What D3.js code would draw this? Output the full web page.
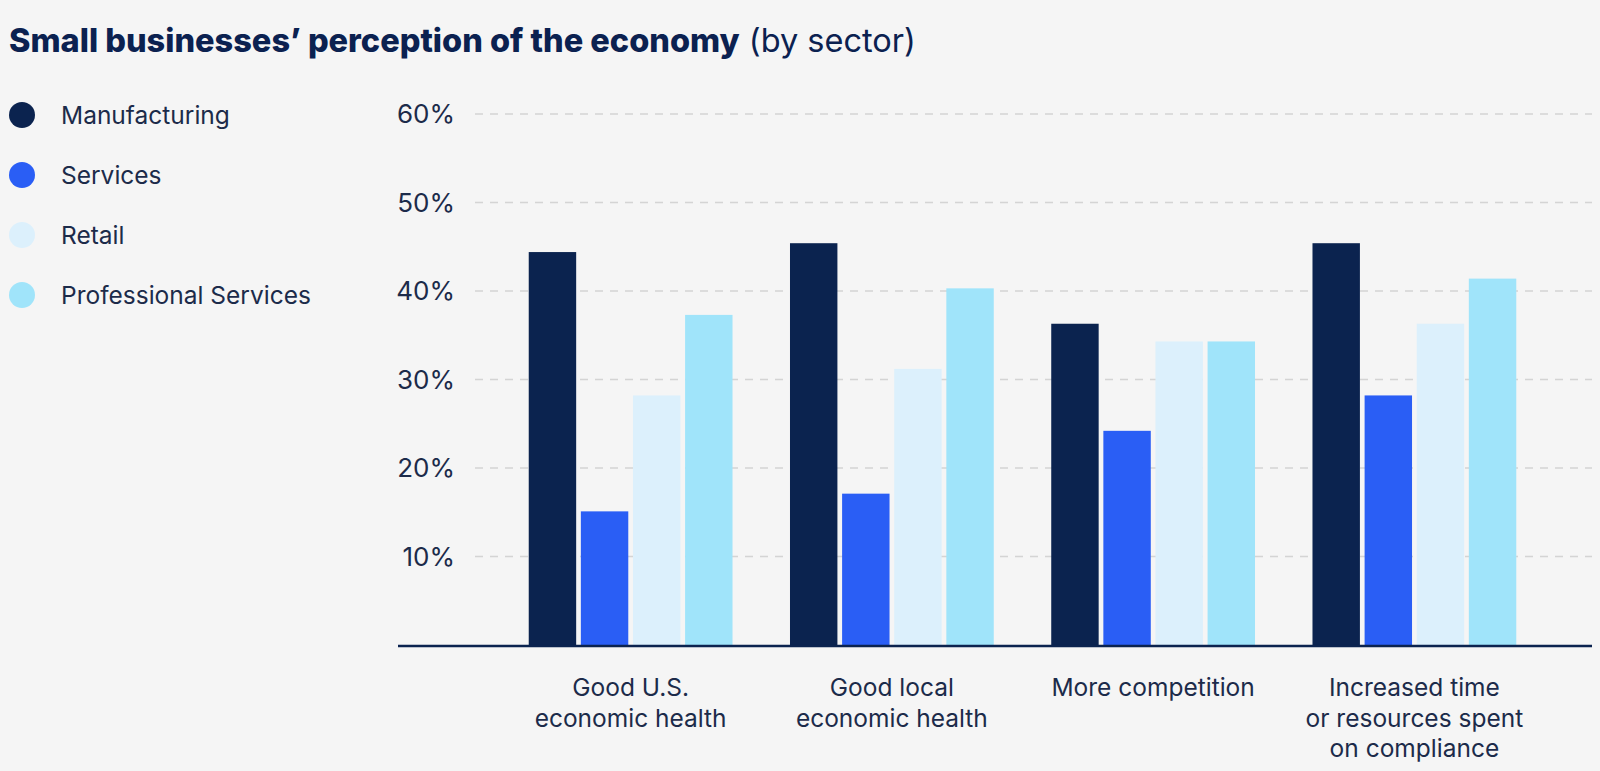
<!DOCTYPE html>
<html>
<head>
<meta charset="utf-8">
<script src="https://cdn.jsdelivr.net/npm/d3@7"></script>
<style>
  html, body { margin: 0; padding: 0; background: #f5f5f5; }
  svg { display: block; }
  text { font-family: Inter, "Open Sans", sans-serif; }
</style>
</head>
<body>
<svg id="chart" width="1600" height="771"></svg>
<script>
const categories = [
  ["Good U.S.", "economic health"],
  ["Good local", "economic health"],
  ["More competition"],
  ["Increased time", "or resources spent", "on compliance"]
];
const seriesNames = ["Manufacturing", "Services", "Retail", "Professional Services"];
const seriesColors = ["#0b234f", "#2a5ef5", "#dcf0fc", "#a0e4fa"];
const manufacturing = [44.4, 45.4, 36.3, 45.4];
const services = [15.1, 17.1, 24.2, 28.2];
const retail = [28.2, 31.2, 34.3, 36.3];
const professional = [37.3, 40.3, 34.3, 41.4];
const yTicks = [10, 20, 30, 40, 50, 60];

const series = [manufacturing, services, retail, professional];
const svg = d3.select("#chart");

const y = d3.scaleLinear().domain([0, 60]).range([645, 114]);
const x0 = d3.scaleBand().domain(d3.range(categories.length)).range([500, 1545]).paddingInner(0.22).paddingOuter(0.11);
const x1 = d3.scaleBand().domain(d3.range(series.length)).range([0, x0.bandwidth()]).paddingInner(0.09).paddingOuter(0);

// title
const title = svg.append("text").attr("x", 9).attr("y", 52).attr("fill", "#0b2150").style("font-size", "32.5px");
title.append("tspan").attr("font-weight", 800).text("Small businesses\u2019 perception of the economy");
title.append("tspan").attr("font-weight", 400).text(" (by sector)");

// gridlines
svg.append("g").selectAll("line").data(yTicks).join("line")
  .attr("x1", 475).attr("x2", 1592)
  .attr("y1", d => y(d)).attr("y2", d => y(d))
  .attr("stroke", "#d4d4d4").attr("stroke-width", 1.3).attr("stroke-dasharray", "8,7");

// y tick labels
svg.append("g").selectAll("text").data(yTicks).join("text")
  .attr("x", 455).attr("y", d => y(d)).attr("dy", "0.36em")
  .attr("text-anchor", "end").attr("fill", "#1c2b4a").style("font-size", "26px")
  .text(d => d + "%");

// bars
const groups = svg.append("g").selectAll("g").data(categories).join("g")
  .attr("transform", (d, i) => `translate(${x0(i)},0)`);
groups.selectAll("rect").data((d, i) => series.map((s, j) => ({ j, v: s[i] }))).join("rect")
  .attr("x", d => x1(d.j)).attr("width", x1.bandwidth())
  .attr("y", d => y(d.v)).attr("height", d => y(0) - y(d.v))
  .attr("fill", d => seriesColors[d.j]);

// baseline
svg.append("line").attr("x1", 398).attr("x2", 1592).attr("y1", y(0) + 1).attr("y2", y(0) + 1)
  .attr("stroke", "#0b234f").attr("stroke-width", 2.5);

// x labels
svg.append("g").selectAll("text").data(categories).join("text")
  .attr("x", (d, i) => x0(i) + x0.bandwidth() / 2).attr("y", 696)
  .attr("text-anchor", "middle").attr("fill", "#1c2b4a").style("font-size", "24.5px")
  .each(function(d) {
    d3.select(this).selectAll("tspan").data(d).join("tspan")
      .attr("x", d3.select(this).attr("x")).attr("dy", (t, k) => k === 0 ? 0 : 30.7).text(t => t);
  });

// legend
const legend = svg.append("g").selectAll("g").data(seriesNames).join("g")
  .attr("transform", (d, i) => `translate(0,${[115, 175, 235, 295][i]})`);
legend.append("circle").attr("cx", 22).attr("cy", 0).attr("r", 13).attr("fill", (d, i) => seriesColors[i]);
legend.append("text").attr("x", 61).attr("dy", "0.36em").attr("fill", "#1c2b4a").style("font-size", "24.5px").text(d => d);
</script>
</body>
</html>
